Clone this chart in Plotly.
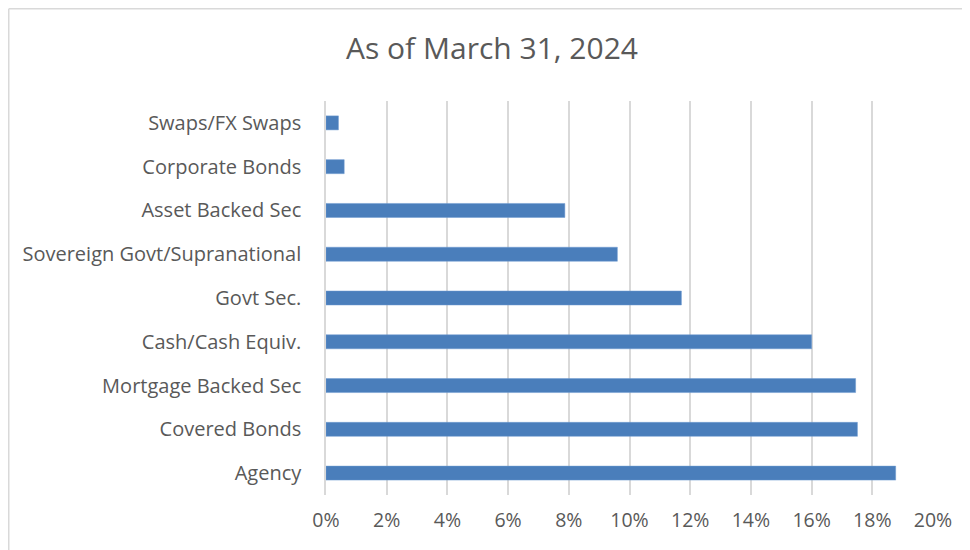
import plotly.graph_objects as go

categories = ["Agency", "Covered Bonds", "Mortgage Backed Sec", "Cash/Cash Equiv.",
              "Govt Sec.", "Sovereign Govt/Supranational", "Asset Backed Sec",
              "Corporate Bonds", "Swaps/FX Swaps"]
values = [18.77, 17.51, 17.45, 16.0, 11.71, 9.6, 7.87, 0.6, 0.41]
tick_vals = [0, 2, 4, 6, 8, 10, 12, 14, 16, 18, 20]
tick_text = [f"{v}%" for v in tick_vals]

FONT = "Open Sans"
TXT = "#595959"

fig = go.Figure(go.Bar(
    x=values, y=categories, orientation="h",
    marker=dict(color="#4A7EBB", line=dict(color="#6F9AD0", width=0.5)),
    width=0.32,
))

OFF = 8  # page body margin
W, H = 970 - OFF, 550 - OFF
L, R, T, B = 326 - OFF, 933 - OFF, 101 - OFF, 495 - OFF
pw, ph = R - L, B - T
bx0 = (0.75 - L) / pw
by1 = (B - 0.75) / ph

fig.update_layout(
    width=W, height=H,
    margin=dict(l=L, r=W - R, t=T, b=H - B, autoexpand=False),
    paper_bgcolor="white", plot_bgcolor="white",
    font=dict(family=FONT, color=TXT, size=19),
    showlegend=False,
    title=dict(text="As of March 31, 2024", x=(492 - OFF) / W, xref="container", xanchor="center",
               y=1 - (48 - OFF) / H, yref="container", yanchor="middle",
               font=dict(family=FONT, size=30, color=TXT)),
    xaxis=dict(range=[0, 20], tickvals=tick_vals, ticktext=tick_text,
               showgrid=True, gridcolor="#D9D9D9", gridwidth=1.5,
               zeroline=False, showline=False, ticks="", ticklabelstandoff=11,
               tickfont=dict(size=19.5, color=TXT), fixedrange=True),
    yaxis=dict(showgrid=False, zeroline=False, showline=True, linecolor="#D9D9D9",
               linewidth=1.5, ticks="", ticklabelstandoff=19,
               tickfont=dict(size=20, color=TXT), range=[-0.5, 8.5]),
    shapes=[
        dict(type="line", xref="paper", yref="paper", x0=bx0, x1=bx0, y0=by1, y1=-0.5,
             line=dict(color="#D9D9D9", width=1.5)),
        dict(type="line", xref="paper", yref="paper", x0=bx0, x1=1.2, y0=by1, y1=by1,
             line=dict(color="#D9D9D9", width=1.5)),
    ],
)

fig.write_html("out.html")
